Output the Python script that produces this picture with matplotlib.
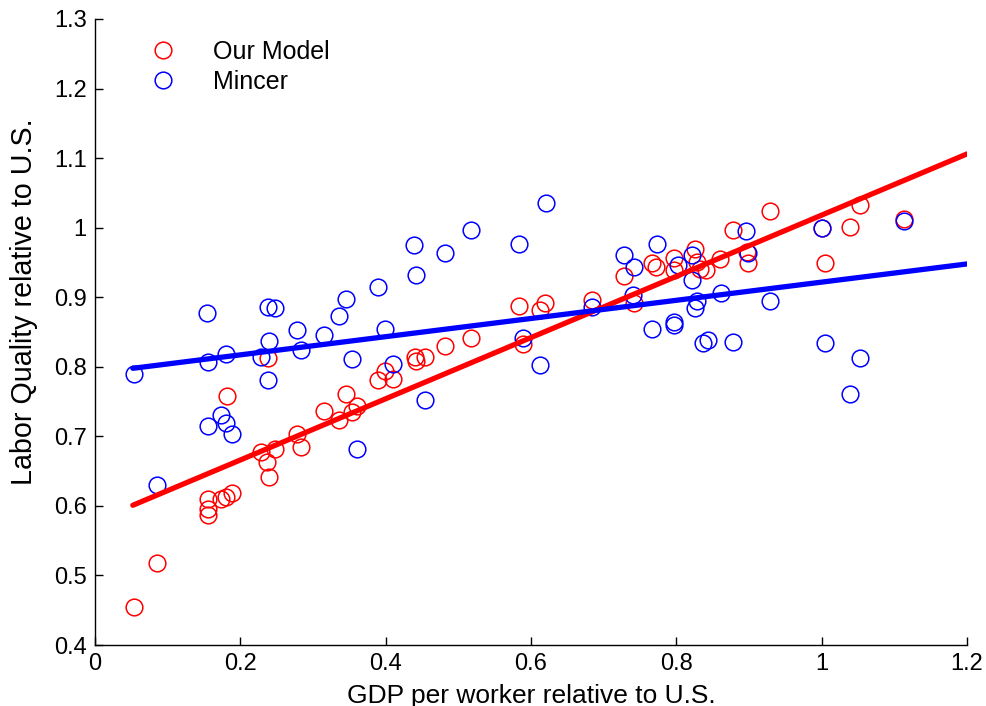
import numpy as np
import matplotlib
matplotlib.use("Agg")
import matplotlib.pyplot as plt
from matplotlib.ticker import FuncFormatter

plt.rcParams['font.family'] = ['Liberation Sans', 'DejaVu Sans']

# Our Model (red)
model_x = [0.053, 0.085, 0.155, 0.155, 0.156, 0.174, 0.180, 0.189, 0.181, 0.228,
           0.237, 0.247, 0.239, 0.238, 0.278, 0.284, 0.315, 0.336, 0.345, 0.354,
           0.360, 0.389, 0.399, 0.410, 0.440, 0.442, 0.454, 0.482, 0.517, 0.583,
           0.589, 0.612, 0.619, 0.684, 0.728, 0.742, 0.766, 0.772, 0.797, 0.797,
           0.826, 0.828, 0.833, 0.841, 0.860, 0.878, 0.897, 0.898, 0.929, 1.000,
           1.005, 1.039, 1.053, 1.113]
model_y = [0.454, 0.518, 0.587, 0.595, 0.610, 0.610, 0.613, 0.618, 0.758, 0.678,
           0.663, 0.682, 0.641, 0.812, 0.703, 0.685, 0.737, 0.723, 0.761, 0.735,
           0.743, 0.781, 0.794, 0.782, 0.814, 0.809, 0.814, 0.830, 0.841, 0.888,
           0.833, 0.882, 0.891, 0.896, 0.930, 0.891, 0.949, 0.943, 0.956, 0.939,
           0.970, 0.951, 0.940, 0.939, 0.955, 0.997, 0.965, 0.949, 1.024, 1.000,
           0.949, 1.001, 1.033, 1.013]

# Mincer (blue)
mincer_x = [0.053, 0.085, 0.154, 0.155, 0.156, 0.173, 0.180, 0.180, 0.189, 0.228,
            0.238, 0.248, 0.239, 0.238, 0.278, 0.284, 0.315, 0.336, 0.345, 0.354,
            0.360, 0.389, 0.399, 0.410, 0.439, 0.442, 0.454, 0.482, 0.517, 0.583,
            0.589, 0.612, 0.620, 0.684, 0.728, 0.742, 0.740, 0.766, 0.773, 0.797,
            0.797, 0.802, 0.822, 0.822, 0.826, 0.828, 0.837, 0.843, 0.861, 0.878,
            0.896, 0.898, 0.929, 1.000, 1.005, 1.039, 1.053, 1.113]
mincer_y = [0.789, 0.630, 0.877, 0.807, 0.715, 0.731, 0.719, 0.818, 0.703, 0.814,
            0.886, 0.884, 0.837, 0.781, 0.853, 0.824, 0.845, 0.873, 0.898, 0.811,
            0.682, 0.915, 0.855, 0.804, 0.975, 0.932, 0.752, 0.964, 0.996, 0.977,
            0.841, 0.802, 1.035, 0.886, 0.960, 0.943, 0.903, 0.855, 0.976, 0.865,
            0.860, 0.946, 0.960, 0.925, 0.884, 0.894, 0.834, 0.838, 0.906, 0.835,
            0.995, 0.963, 0.895, 1.000, 0.834, 0.761, 0.813, 1.009]

# fitted lines (intercept, slope)
model_fit = (0.578, 0.440)
mincer_fit = (0.791, 0.1307)
fit_range = (0.052, 1.2)

fig = plt.figure(figsize=(9.87, 7.06), dpi=100)
ax = fig.add_axes([0.0963, 0.0864, 0.9797 - 0.0963, 0.9731 - 0.0864])

ms = 12
ax.plot(model_x, model_y, 'o', mfc='none', mec='#ff0000', mew=1.1, ms=ms,
        label='Our Model', zorder=2)
ax.plot(mincer_x, mincer_y, 'o', mfc='none', mec='#0000ff', mew=1.1, ms=ms,
        label='Mincer', zorder=2)

xs = np.array(fit_range)
ax.plot(xs, model_fit[0] + model_fit[1] * xs, '-', color='#ff0000', lw=3.8,
        zorder=3, solid_capstyle='round')
ax.plot(xs, mincer_fit[0] + mincer_fit[1] * xs, '-', color='#0000ff', lw=3.8,
        zorder=3, solid_capstyle='round')

ax.set_xlim(0, 1.2)
ax.set_ylim(0.4, 1.3)
ax.set_xticks(np.arange(0, 1.21, 0.2))
ax.set_yticks(np.arange(0.4, 1.31, 0.1))
fmt = FuncFormatter(lambda v, p: ('%.1f' % v).rstrip('0').rstrip('.') if abs(v) > 1e-9 else '0')
ax.xaxis.set_major_formatter(fmt)
ax.yaxis.set_major_formatter(fmt)
ax.tick_params(direction='in', length=6, width=1, labelsize=17, top=False, right=False)
ax.tick_params(axis='y', pad=6)
ax.tick_params(axis='x', pad=6)
for s in ['top', 'right']:
    ax.spines[s].set_visible(False)
for s in ['left', 'bottom']:
    ax.spines[s].set_linewidth(1)

ax.set_xlabel('GDP per worker relative to U.S.', fontsize=19, labelpad=6)
ax.set_ylabel('Labor Quality relative to U.S.', fontsize=20.6)
ax.yaxis.set_label_coords(-0.0654, 0.548)

leg = ax.legend(loc='upper left', bbox_to_anchor=(0.023, 1.003), frameon=False,
                fontsize=18, handletextpad=1.0, labelspacing=0.25, numpoints=1,
                handlelength=2.0, markerscale=1.0)

fig.savefig('out.png', dpi=100)
